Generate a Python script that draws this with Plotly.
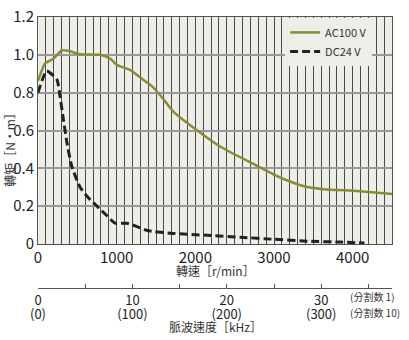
import plotly.graph_objects as go

# AC100 V curve
rpm_ac = [0, 90, 200, 300, 400, 535, 790, 917, 1000, 1170, 1300, 1465, 1590, 1720, 2025, 2320, 2790, 3080, 3380, 3630, 4060, 4500]
torque_ac = [0.862, 0.955, 0.98, 1.023, 1.02, 1.003, 1.0, 0.98, 0.947, 0.92, 0.88, 0.828, 0.768, 0.70, 0.60, 0.514, 0.412, 0.351, 0.305, 0.29, 0.28, 0.265]

# DC24 V curve
rpm_dc = [0, 110, 240, 280, 320, 370, 430, 535, 640, 750, 880, 980, 1130, 1260, 1390, 1720, 2150, 2570, 3000, 3430, 3850, 4150]
torque_dc = [0.80, 0.915, 0.87, 0.78, 0.667, 0.53, 0.41, 0.30, 0.244, 0.20, 0.148, 0.11, 0.11, 0.092, 0.071, 0.056, 0.046, 0.036, 0.025, 0.015, 0.01, 0.005]

y_ticks = [0, 0.2, 0.4, 0.6, 0.8, 1.0, 1.2]
y_ticktext = ["0", "0.2", "0.4", "0.6", "0.8", "1.0", "1.2"]
x_ticks = [0, 1000, 2000, 3000, 4000]
khz_ticks = [0, 5, 10, 15, 20, 25, 30, 35]
khz_text = ["0", "", "10", "", "20", "", "30", ""]
khz10_ticks = [0, 100, 200, 300]
khz10_text = ["(0)", "(100)", "(200)", "(300)"]

NUM = "Liberation Sans Narrow, Noto Sans CJK TC"
CJK = "Noto Sans CJK TC"

fig = go.Figure()
fig.add_trace(go.Scatter(x=rpm_ac, y=torque_ac, mode="lines", name="AC100 V",
                         line=dict(color="#8a8a3a", width=2.5, shape="spline", smoothing=0.5)))
fig.add_trace(go.Scatter(x=rpm_dc, y=torque_dc, mode="lines", name="DC24 V",
                         line=dict(color="#222222", width=3, dash="8px,4px", shape="spline", smoothing=0.5)))
# empty carriers so the pulse-speed axes get drawn
fig.add_trace(go.Scatter(x=[], y=[], xaxis="x2", yaxis="y", showlegend=False, hoverinfo="skip"))
fig.add_trace(go.Scatter(x=[], y=[], xaxis="x3", yaxis="y", showlegend=False, hoverinfo="skip"))

fig.update_layout(
    width=409, height=340,
    margin=dict(l=38, r=17, t=5, b=20),
    paper_bgcolor="white", plot_bgcolor="#eeeee8",
    font=dict(family=NUM, size=15, color="#222"),
    showlegend=True,
    legend=dict(x=0.698, y=0.997, xanchor="left", yanchor="top", bgcolor="#eeeee8",
                font=dict(family=CJK, size=11, color="#333"), itemwidth=30, tracegroupgap=0),
    xaxis=dict(range=[0, 4500], tickvals=x_ticks, showgrid=True, gridcolor="#4a4a4a", gridwidth=1,
               minor=dict(dtick=100, showgrid=True, gridcolor="#4a4a4a", gridwidth=1),
               showline=True, linecolor="#555", mirror=True, ticks="", zeroline=False,
               tickfont=dict(family=NUM, size=15), ticklabeloverflow="allow"),
    yaxis=dict(range=[0, 1.2], domain=[0.2508, 1], tickvals=y_ticks, ticktext=y_ticktext,
               showgrid=True, gridcolor="#999", gridwidth=2, showline=True, linecolor="#555",
               mirror=True, ticks="", zeroline=False, tickfont=dict(family=NUM, size=15),
               ticklabeloverflow="allow"),
    xaxis2=dict(overlaying="x", anchor="free", position=0.1048, side="bottom", range=[0, 37.5],
                tickvals=khz_ticks, ticktext=khz_text, ticks="inside", ticklen=4, tickcolor="#555",
                showline=True, linecolor="#555", showgrid=False, zeroline=False,
                tickfont=dict(family=NUM, size=13), ticklabeloverflow="allow"),
    xaxis3=dict(overlaying="x", anchor="free", position=0.0495, side="bottom", range=[0, 375],
                tickvals=khz10_ticks, ticktext=khz10_text, ticks="", showline=False,
                showgrid=False, zeroline=False, tickfont=dict(family=NUM, size=13),
                ticklabeloverflow="allow"),
)

ann = dict(showarrow=False, xref="paper", yref="paper")
fig.add_annotation(text="轉矩［N·m］", x=-0.0791, y=0.5714, textangle=-90, xanchor="center",
                   yanchor="middle", font=dict(family=CJK, size=12, color="#333"), **ann)
fig.add_annotation(text="轉速［r/min］", x=0.5, y=0.162, xanchor="center", yanchor="middle",
                   font=dict(family=CJK, size=12, color="#333"), **ann)
fig.add_annotation(text="脈波速度［kHz］", x=0.5, y=-0.0205, xanchor="center", yanchor="middle",
                   font=dict(family=CJK, size=12, color="#333"), **ann)
fig.add_annotation(text="(分割数 1)", x=0.8757, y=0.0762, xanchor="left", yanchor="middle",
                   font=dict(family=CJK, size=10, color="#333"), **ann)
fig.add_annotation(text="(分割数 10)", x=0.8757, y=0.0254, xanchor="left", yanchor="middle",
                   font=dict(family=CJK, size=10, color="#333"), **ann)

fig.write_html("out.html")
